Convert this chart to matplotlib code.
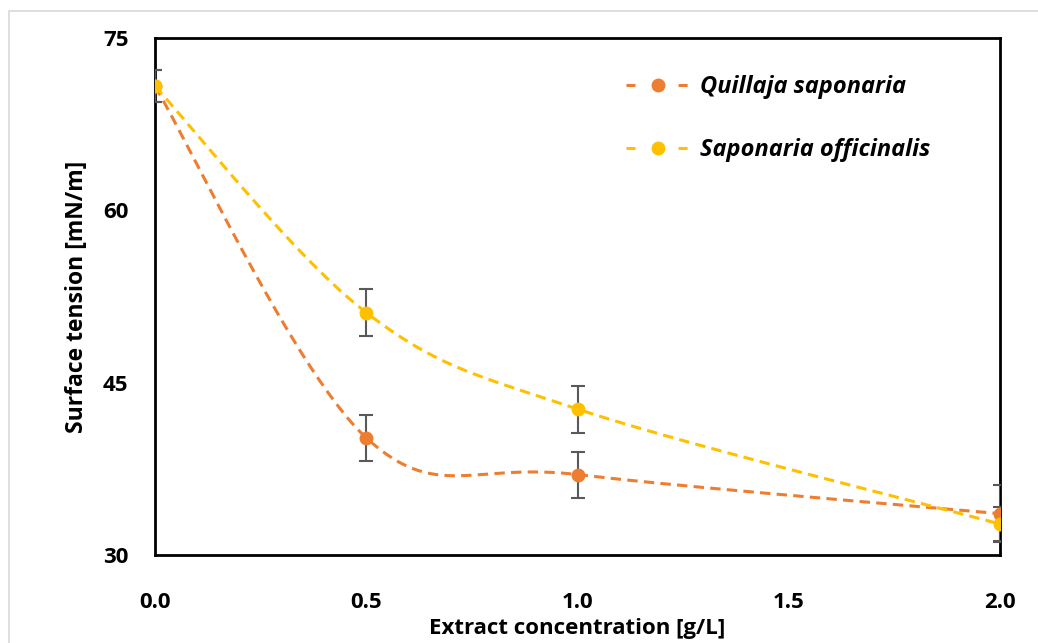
import numpy as np
import matplotlib
matplotlib.use("Agg")
import matplotlib.pyplot as plt
from matplotlib.lines import Line2D
from matplotlib.patches import Rectangle

# ---- data ----
conc = [0.0, 0.5, 1.0, 2.0]
quillaja = [70.8, 40.2, 37.0, 33.6]
quillaja_err = [1.4, 2.0, 2.0, 2.5]
saponaria = [70.8, 51.1, 42.7, 32.7]
saponaria_err = [1.4, 2.05, 2.05, 1.5]
series_names = ["Quillaja saponaria", "Saponaria officinalis"]
colors = ["#ED7D31", "#FFC000"]
xticks = [0.0, 0.5, 1.0, 1.5, 2.0]
yticks = [30, 45, 60, 75]

FAM = ['Open Sans', 'Lato', 'DejaVu Sans']
plt.rcParams['font.family'] = FAM
plt.rcParams['lines.scale_dashes'] = False

W, H = 1038, 643
fig = plt.figure(figsize=(W / 100, H / 100), dpi=100)
# light gray outer border
fig.patches.append(Rectangle((9 / W, -0.1), 1.2, 1 - 11 / H + 0.1, transform=fig.transFigure,
                             fill=False, edgecolor="#D9D9D9", linewidth=1.2))

ax = fig.add_axes([155 / W, 1 - 555 / H, 845 / W, 517 / H])
xmin, xmax, ymin, ymax = 0.0, 2.0, 30, 75
ax.set_xlim(xmin, xmax)
ax.set_ylim(ymin, ymax)

px_w, px_h = 845.0, 517.0


def smooth(xs, ys, n=60):
    # Catmull-Rom (Excel-like smoothed line) in pixel space
    P = np.array([[(x - xmin) / (xmax - xmin) * px_w, (y - ymin) / (ymax - ymin) * px_h]
                  for x, y in zip(xs, ys)])
    pts = []
    m = len(P)
    for i in range(m - 1):
        p0 = P[i - 1] if i > 0 else P[i]
        p1, p2 = P[i], P[i + 1]
        p3 = P[i + 2] if i + 2 < m else P[i + 1]
        c1 = p1 + (p2 - p0) / 6
        c2 = p2 - (p3 - p1) / 6
        t = np.linspace(0, 1, n)[:, None]
        seg = (1 - t) ** 3 * p1 + 3 * (1 - t) ** 2 * t * c1 + 3 * (1 - t) * t ** 2 * c2 + t ** 3 * p2
        if i > 0:
            seg = seg[1:]
        pts.append(seg)
    pts = np.vstack(pts)
    xs_s = pts[:, 0] / px_w * (xmax - xmin) + xmin
    ys_s = pts[:, 1] / px_h * (ymax - ymin) + ymin
    return xs_s, ys_s


dash = (7.5, 4.5)
handles = []
for vals, errs, col, name in [(quillaja, quillaja_err, colors[0], series_names[0]),
                              (saponaria, saponaria_err, colors[1], series_names[1])]:
    sx, sy = smooth(conc, vals)
    ax.plot(sx, sy, color=col, lw=2.2, dashes=dash, zorder=2, dash_capstyle='butt')
    ax.errorbar(conc, vals, yerr=errs, fmt='none', ecolor='#595959', elinewidth=1.5,
                capsize=5, capthick=1.5, zorder=3)
    ax.plot(conc, vals, 'o', color=col, markersize=10, markeredgewidth=0, zorder=4)
    h = Line2D([], [], color=col, lw=2.2, dashes=(6.5, 31), marker='o', markersize=10,
               markeredgewidth=0, dash_capstyle='butt')
    handles.append(h)

for s in ax.spines.values():
    s.set_color('black')
    s.set_linewidth(2)

ax.set_xticks(xticks)
ax.set_xticklabels([f"{v:.1f}" for v in xticks])
ax.set_yticks(yticks)
ax.set_yticklabels([str(v) for v in yticks])
ax.tick_params(axis='both', length=0, labelsize=16)
ax.tick_params(axis='x', pad=27)
ax.tick_params(axis='y', pad=19)
for lab in ax.get_xticklabels() + ax.get_yticklabels():
    lab.set_fontweight('bold')

ax.set_xlabel("Extract concentration [g/L]", fontsize=16, fontweight='bold', labelpad=3)
ax.set_ylabel("Surface tension [mN/m]", fontsize=16.5, fontweight='bold', labelpad=10)

leg = ax.legend(handles, series_names, loc='upper left', bbox_to_anchor=(0.532, 0.969),
                frameon=False, handlelength=2.71, handletextpad=0.42, labelspacing=1.65,
                prop={'family': FAM, 'weight': 'bold', 'style': 'italic', 'size': 17})

fig.savefig("out.png", dpi=100)
